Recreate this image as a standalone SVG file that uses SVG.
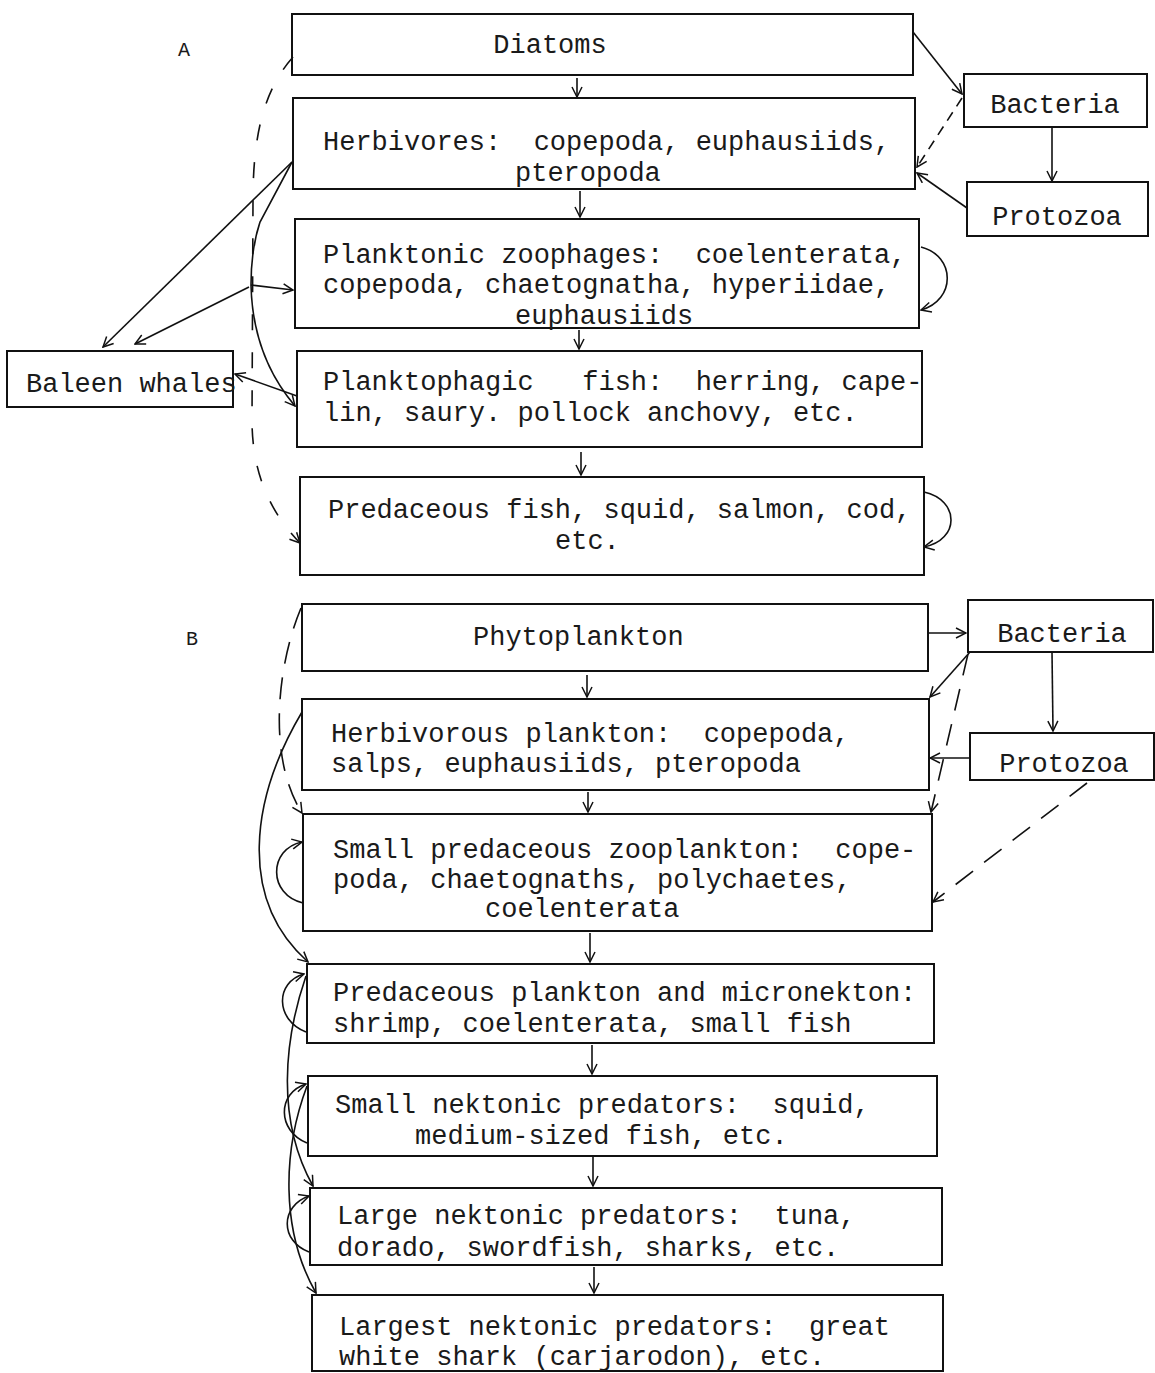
<svg xmlns="http://www.w3.org/2000/svg" width="1155" height="1373" viewBox="0 0 1155 1373" xml:space="preserve">
<style>
.bx{fill:none;stroke:#111;stroke-width:2}
.t{font-family:"Liberation Mono","Courier New",monospace;font-size:27px;fill:#1a1a1a;white-space:pre}
.lb{font-family:"Liberation Mono","Courier New",monospace;font-size:20px;fill:#1a1a1a}
.c{fill:none;stroke:#111;stroke-width:1.6}
.d{stroke-dasharray:16 22}
.d2{stroke-dasharray:10 7}
.d3{stroke-dasharray:22 14}
</style>
<defs>
<marker id="ar" viewBox="0 0 12 12" refX="11" refY="6" markerWidth="12" markerHeight="12" markerUnits="userSpaceOnUse" orient="auto">
<path d="M1,1 L11,6 L1,11" fill="none" stroke="#111" stroke-width="1.5"/>
</marker>
</defs>
<rect width="1155" height="1373" fill="#fff"/>

<text class="lb" x="178" y="56">A</text>
<text class="lb" x="186" y="645">B</text>

<g id="diatoms"><rect class="bx" x="292" y="14" width="621" height="61"/><text class="t" x="550" y="53" text-anchor="middle">Diatoms</text></g>
<g id="herbivores"><rect class="bx" x="293" y="98" width="622" height="91"/><text class="t" x="323" y="150">Herbivores:  copepoda, euphausiids,</text><text class="t" x="515" y="181">pteropoda</text></g>
<g id="zoophages"><rect class="bx" x="295" y="219" width="624" height="109"/><text class="t" x="323" y="263">Planktonic zoophages:  coelenterata,</text><text class="t" x="323" y="293">copepoda, chaetognatha, hyperiidae,</text><text class="t" x="515" y="324">euphausiids</text></g>
<g id="planktophagic"><rect class="bx" x="297" y="351" width="625" height="96"/><text class="t" x="323" y="390">Planktophagic   fish:  herring, cape-</text><text class="t" x="323" y="421">lin, saury. pollock anchovy, etc.</text></g>
<g id="predfish"><rect class="bx" x="300" y="477" width="624" height="98"/><text class="t" x="328" y="518">Predaceous fish, squid, salmon, cod,</text><text class="t" x="555" y="549">etc.</text></g>
<g id="bacteriaA"><rect class="bx" x="964" y="74" width="183" height="53"/><text class="t" x="1055" y="113" text-anchor="middle">Bacteria</text></g>
<g id="protozoaA"><rect class="bx" x="967" y="182" width="181" height="54"/><text class="t" x="1057" y="225" text-anchor="middle">Protozoa</text></g>
<g id="baleen"><rect class="bx" x="7" y="351" width="226" height="56"/><text class="t" x="26" y="392">Baleen whales</text></g>

<g id="phyto"><rect class="bx" x="302" y="604" width="626" height="67"/><text class="t" x="473" y="645">Phytoplankton</text></g>
<g id="herbplankton"><rect class="bx" x="302" y="699" width="627" height="91"/><text class="t" x="331" y="742">Herbivorous plankton:  copepoda,</text><text class="t" x="331" y="772">salps, euphausiids, pteropoda</text></g>
<g id="smallpred"><rect class="bx" x="303" y="814" width="629" height="117"/><text class="t" x="333" y="858">Small predaceous zooplankton:  cope-</text><text class="t" x="333" y="888">poda, chaetognaths, polychaetes,</text><text class="t" x="485" y="917">coelenterata</text></g>
<g id="predplankton"><rect class="bx" x="307" y="964" width="627" height="79"/><text class="t" x="333" y="1001">Predaceous plankton and micronekton:</text><text class="t" x="333" y="1032">shrimp, coelenterata, small fish</text></g>
<g id="smallnekton"><rect class="bx" x="308" y="1076" width="629" height="80"/><text class="t" x="335" y="1113">Small nektonic predators:  squid,</text><text class="t" x="415" y="1144">medium-sized fish, etc.</text></g>
<g id="largenekton"><rect class="bx" x="310" y="1188" width="632" height="77"/><text class="t" x="337" y="1224">Large nektonic predators:  tuna,</text><text class="t" x="337" y="1256">dorado, swordfish, sharks, etc.</text></g>
<g id="largestnekton"><rect class="bx" x="312" y="1295" width="631" height="76"/><text class="t" x="339" y="1335">Largest nektonic predators:  great</text><text class="t" x="339" y="1365">white shark (carjarodon), etc.</text></g>
<g id="bacteriaB"><rect class="bx" x="968" y="600" width="185" height="52"/><text class="t" x="1062" y="642" text-anchor="middle">Bacteria</text></g>
<g id="protozoaB"><rect class="bx" x="970" y="733" width="184" height="47"/><text class="t" x="1064" y="772" text-anchor="middle">Protozoa</text></g>

<g id="connectors">
<path class="c" d="M577 78 V97" marker-end="url(#ar)"/>
<path class="c" d="M580 191 V217" marker-end="url(#ar)"/>
<path class="c" d="M579 330 V349" marker-end="url(#ar)"/>
<path class="c" d="M581 452 V475" marker-end="url(#ar)"/>
<path class="c" d="M913 32 L962 94" marker-end="url(#ar)"/>
<path class="c d2" d="M962 98 L917 167" marker-end="url(#ar)"/>
<path class="c" d="M967 208 L917 173" marker-end="url(#ar)"/>
<path class="c" d="M1052 128 V181" marker-end="url(#ar)"/>
<path class="c" d="M921 247 C956 256 956 300 921 310" marker-end="url(#ar)"/>
<path class="c" d="M924 492 C960 500 960 540 924 547" marker-end="url(#ar)"/>
<path class="c" d="M292 162 L103 347" marker-end="url(#ar)"/>
<path class="c" d="M292 162 L260 222 C254 240 251 262 251 285 C252 330 266 372 295 406" marker-end="url(#ar)"/>
<path class="c" d="M251 285 L293 290" marker-end="url(#ar)"/>
<path class="c" d="M249 287 L135 344" marker-end="url(#ar)"/>
<path class="c" d="M297 396 L235 374" marker-end="url(#ar)"/>
<path class="c d" d="M293 57 C262 92 253 140 253 200 L252 420 C252 470 268 510 300 543" marker-end="url(#ar)"/>
<path class="c" d="M587 675 V697" marker-end="url(#ar)"/>
<path class="c" d="M588 792 V812" marker-end="url(#ar)"/>
<path class="c" d="M590 933 V962" marker-end="url(#ar)"/>
<path class="c" d="M592 1045 V1074" marker-end="url(#ar)"/>
<path class="c" d="M593 1157 V1186" marker-end="url(#ar)"/>
<path class="c" d="M594 1267 V1293" marker-end="url(#ar)"/>
<path class="c" d="M928 633 L966 633" marker-end="url(#ar)"/>
<path class="c" d="M970 652 L930 697" marker-end="url(#ar)"/>
<path class="c d3" d="M968 654 L931 812" marker-end="url(#ar)"/>
<path class="c" d="M970 758 L930 758" marker-end="url(#ar)"/>
<path class="c" d="M1052 652 L1053 731" marker-end="url(#ar)"/>
<path class="c d3" d="M1087 783 L933 902" marker-end="url(#ar)"/>
<path class="c d3" d="M301 608 C276 668 268 760 302 813" marker-end="url(#ar)"/>
<path class="c" d="M302 712 C250 800 238 900 308 962" marker-end="url(#ar)"/>
<path class="c" d="M303 903 C268 895 268 849 302 842" marker-end="url(#ar)"/>
<path class="c" d="M306 1032 C275 1020 275 982 304 974" marker-end="url(#ar)"/>
<path class="c" d="M306 976 C284 1040 276 1120 313 1186" marker-end="url(#ar)"/>
<path class="c" d="M307 1143 C277 1131 277 1093 306 1084" marker-end="url(#ar)"/>
<path class="c" d="M307 1086 C283 1150 280 1230 316 1293" marker-end="url(#ar)"/>
<path class="c" d="M309 1252 C280 1241 280 1206 309 1196" marker-end="url(#ar)"/>
</g>
</svg>
